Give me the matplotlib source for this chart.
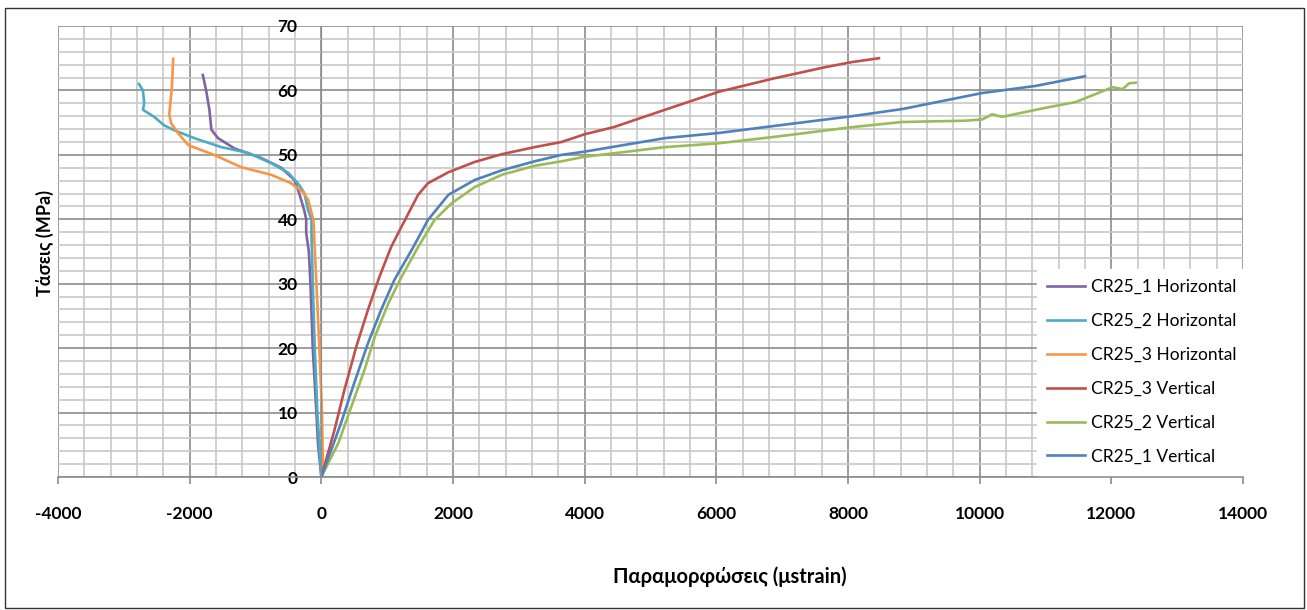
import matplotlib.pyplot as plt
from matplotlib.ticker import MultipleLocator
from matplotlib.patches import Rectangle

plt.rcParams['font.family'] = ['Lato', 'DejaVu Sans']
plt.rcParams['axes.unicode_minus'] = False

# CR25 specimens, strain (microstrain) vs stress (MPa)
h1_x = [0, -50, -75, -130, -165, -190, -230, -230, -260, -335, -410, -610, -910, -1320, -1570, -1670, -1700, -1750, -1800]
h1_y = [0, 5, 10, 20, 30, 35, 37.9, 40, 41.4, 44, 46.1, 48, 49.5, 51, 52.6, 53.9, 57, 60, 62.4]

h2_x = [0, -60, -100, -130, -150, -150, -200, -260, -335, -500, -760, -1110, -1520, -1930, -2230, -2390, -2540, -2710, -2690, -2710, -2770]
h2_y = [0, 10, 20, 30, 37.9, 40, 41.4, 44.1, 45.3, 47.2, 48.7, 50.3, 51.2, 52.6, 53.8, 54.6, 55.9, 57, 58, 60, 61]

h3_x = [0, 25, 10, -30, -75, -120, -200, -275, -460, -760, -1220, -1630, -2020, -2180, -2280, -2310, -2270, -2250]
h3_y = [0, 1.5, 10, 20, 30, 39.9, 43, 44.2, 45.6, 46.9, 48.1, 50, 51.5, 53.4, 54.9, 56.2, 60.6, 64.9]

v3_x = [0, 200, 350, 530, 710, 880, 1060, 1215, 1470, 1620, 1930, 2330, 2740, 3240, 3650, 4000, 4440, 5220, 6040, 6890, 7650, 8060, 8470]
v3_y = [0, 7.3, 13.5, 20.2, 26, 31, 35.7, 38.8, 43.8, 45.6, 47.3, 48.9, 50.1, 51.2, 52, 53.2, 54.3, 57, 59.8, 61.9, 63.6, 64.4, 65]

v2_x = [0, 260, 455, 655, 810, 1020, 1215, 1470, 1720, 1980, 2330, 2740, 3240, 3650, 4000, 5220, 6040, 6890, 8060, 8820, 9780, 10040, 10190, 10340, 11000, 11460, 12020, 12170, 12270, 12370]
v2_y = [0, 5.3, 10.9, 16.6, 21.7, 27, 31, 35.7, 39.9, 42.5, 45, 46.9, 48.3, 49, 49.7, 51.2, 51.8, 52.8, 54.3, 55.1, 55.3, 55.5, 56.3, 55.9, 57.3, 58.2, 60.5, 60.2, 61.1, 61.2]

v1_x = [0, 300, 500, 710, 910, 1110, 1370, 1620, 1930, 2330, 2740, 3240, 3650, 4000, 5220, 6040, 6890, 8060, 8820, 10040, 10850, 11600]
v1_y = [0, 8.4, 14.6, 20.8, 26, 30.6, 35.2, 39.9, 43.8, 46.1, 47.6, 49, 50, 50.5, 52.6, 53.4, 54.5, 56, 57.1, 59.6, 60.7, 62.2]

fig = plt.figure(figsize=(13.07, 6.10), dpi=100)
ax = fig.add_axes([58 / 1307, 1 - 477 / 610, (1243 - 58) / 1307, (477 - 26) / 610])

ax.plot(h1_x, h1_y, color='#8064A2', lw=1.9, label='CR25_1 Horizontal')
ax.plot(h2_x, h2_y, color='#4BACC6', lw=1.9, label='CR25_2 Horizontal')
ax.plot(h3_x, h3_y, color='#F79646', lw=1.9, label='CR25_3 Horizontal')
ax.plot(v3_x, v3_y, color='#C0504D', lw=1.9, label='CR25_3 Vertical')
ax.plot(v2_x, v2_y, color='#9BBB59', lw=1.9, label='CR25_2 Vertical')
ax.plot(v1_x, v1_y, color='#4F81BD', lw=1.9, label='CR25_1 Vertical')

ax.set_xlim(-4000, 14000)
ax.set_ylim(0, 70)
ax.xaxis.set_major_locator(MultipleLocator(2000))
ax.xaxis.set_minor_locator(MultipleLocator(400))
ax.yaxis.set_major_locator(MultipleLocator(10))
ax.yaxis.set_minor_locator(MultipleLocator(2))
ax.grid(which='major', color='#8c8c8c', lw=1.2)
ax.grid(which='minor', color='#c8c8c8', lw=1.2)
ax.set_axisbelow(True)

for s in ['top', 'right']:
    ax.spines[s].set_visible(False)
ax.spines['left'].set_position(('data', 0))
ax.spines['left'].set_color('#8c8c8c')
ax.spines['bottom'].set_color('#8c8c8c')
ax.spines['bottom'].set_linewidth(1.2)

ax.tick_params(axis='x', which='major', length=5, width=1.2, color='#8c8c8c', pad=16, labelsize=12.5)
ax.tick_params(axis='y', which='major', length=0, pad=17, labelsize=12.5)
ax.tick_params(which='minor', length=0)
for lbl in ax.get_xticklabels() + ax.get_yticklabels():
    lbl.set_fontweight('bold')

fig.text(45 / 1307, 1 - 243 / 610, 'Τάσεις (MPa)', rotation=90, ha='center', va='center',
         fontsize=13, fontweight='bold')
fig.text(730 / 1307, 1 - 577 / 610, 'Παραμορφώσεις (μstrain)', ha='center', va='center',
         fontsize=14.5, fontweight='bold')

leg = ax.legend(loc='upper left', bbox_to_anchor=(0.826, 0.462), frameon=True, fancybox=False,
                fontsize=12.5, handlelength=2.2, handletextpad=0.3, labelspacing=1.03,
                borderaxespad=0, borderpad=0.6)
leg.get_frame().set_facecolor('white')
leg.get_frame().set_edgecolor('white')
leg.get_frame().set_alpha(1)

fig.patches.append(Rectangle((5 / 1307, 2 / 610), 1299 / 1307, 600 / 610, transform=fig.transFigure,
                             fill=False, edgecolor='#333333', lw=1))

fig.savefig('out.png', dpi=100)
